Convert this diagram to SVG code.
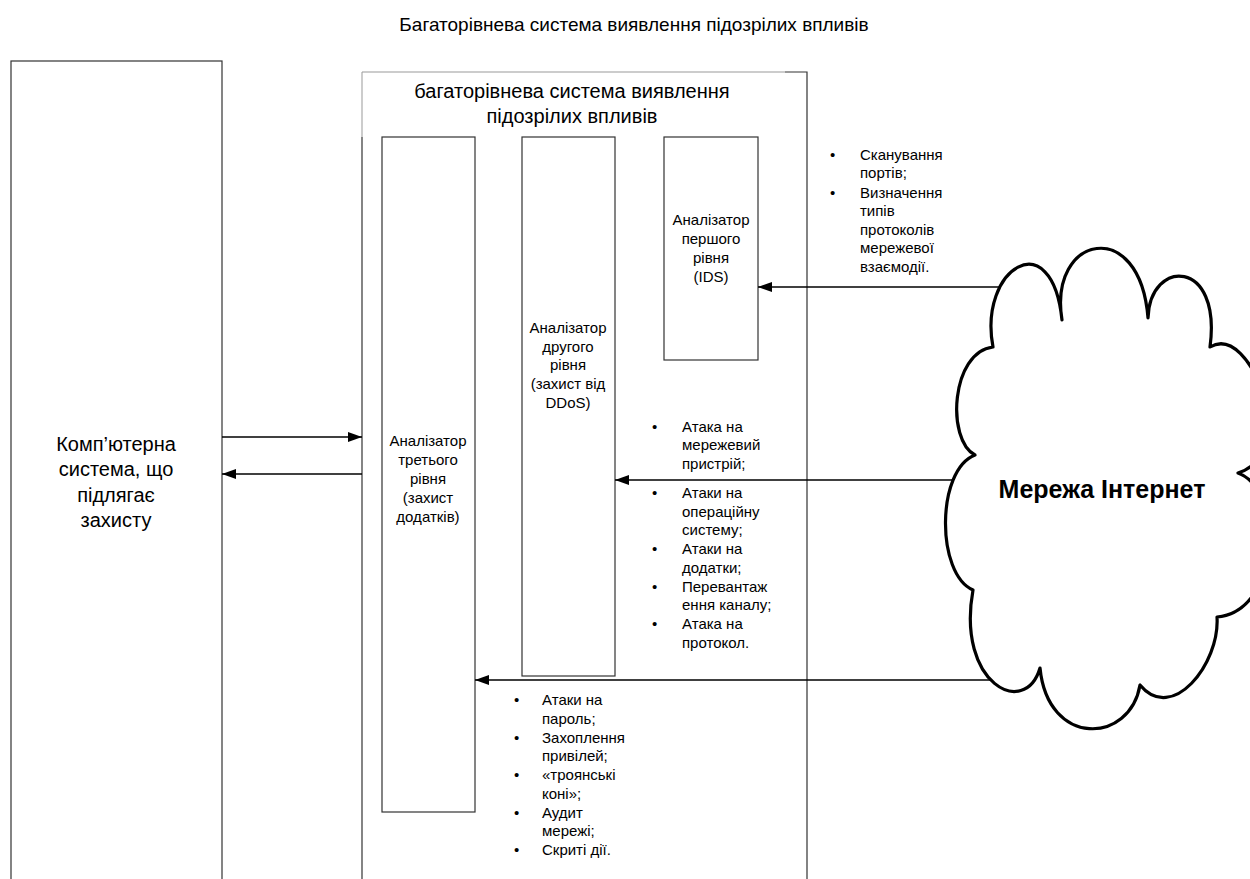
<svg xmlns="http://www.w3.org/2000/svg" width="1250" height="879" viewBox="0 0 1250 879">
  <defs>
    <marker id="arrow" markerWidth="14" markerHeight="10" refX="14" refY="5" orient="auto" markerUnits="userSpaceOnUse">
      <path d="M0,0 L14,5 L0,10 Z" fill="#000"/>
    </marker>
    <style>
      text { font-family: "Liberation Sans", Arial, sans-serif; fill: #000; }
      .box { fill: #fff; stroke: #333; stroke-width: 1.2; }
      .title { font-size: 19px; text-anchor: middle; }
      .sys { font-size: 20px; text-anchor: middle; }
      .big { font-size: 20px; text-anchor: middle; }
      .lbl { font-size: 15px; text-anchor: middle; }
      .li { font-size: 15px; }
      .conn { stroke: #000; stroke-width: 1.4; fill: none; marker-end: url(#arrow); }
      .cloud { fill: #fff; stroke: #000; stroke-width: 3.2; stroke-linejoin: round; }
      .net { font-size: 25px; font-weight: bold; text-anchor: middle; }
    </style>
  </defs>

  <rect width="1250" height="879" fill="#fff"/>

  <text class="title" x="634" y="31">Багаторівнева система виявлення підозрілих впливів</text>

  <!-- protected computer system -->
  <g id="protected-system">
    <rect class="box" x="11" y="61" width="211" height="830"/>
    <text class="big" x="116" y="451">Комп’ютерна</text>
    <text class="big" x="116" y="476">система, що</text>
    <text class="big" x="116" y="502">підлягає</text>
    <text class="big" x="116" y="527">захисту</text>
  </g>

  <!-- outer multi-level detection system -->
  <g id="detection-system">
    <path d="M362,890 V137" fill="none" stroke="#333" stroke-width="1.2"/>
    <path d="M362,137 V72 H785" fill="none" stroke="#999" stroke-width="1"/>
    <path d="M785,72 H807 V890" fill="none" stroke="#333" stroke-width="1.2"/>
    <text class="sys" x="572" y="98">багаторівнева система виявлення</text>
    <text class="sys" x="572" y="123">підозрілих впливів</text>
  </g>

  <g id="analyzer-3">
    <rect class="box" x="382" y="137" width="93" height="675"/>
    <text class="lbl" x="428" y="446">Аналізатор</text>
    <text class="lbl" x="428" y="465">третього</text>
    <text class="lbl" x="428" y="484">рівня</text>
    <text class="lbl" x="428" y="503">(захист</text>
    <text class="lbl" x="428" y="522">додатків)</text>
  </g>

  <g id="analyzer-2">
    <rect class="box" x="522" y="137" width="93" height="539"/>
    <text class="lbl" x="568" y="333">Аналізатор</text>
    <text class="lbl" x="568" y="352">другого</text>
    <text class="lbl" x="568" y="370">рівня</text>
    <text class="lbl" x="568" y="389">(захист від</text>
    <text class="lbl" x="568" y="408">DDoS)</text>
  </g>

  <g id="analyzer-1">
    <rect class="box" x="664" y="137" width="94" height="223"/>
    <text class="lbl" x="711" y="225">Аналізатор</text>
    <text class="lbl" x="711" y="244">першого</text>
    <text class="lbl" x="711" y="263">рівня</text>
    <text class="lbl" x="711" y="282">(IDS)</text>
  </g>

  <!-- connectors -->
  <g id="connectors">
    <line class="conn" x1="222" y1="437" x2="362" y2="437"/>
    <line class="conn" x1="362" y1="474" x2="222" y2="474"/>
    <line class="conn" x1="1010" y1="287" x2="758" y2="287"/>
    <line class="conn" x1="960" y1="480" x2="615" y2="480"/>
    <line class="conn" x1="990" y1="680" x2="475" y2="680"/>
  </g>

  <g id="internet">
    <path class="cloud" d="M993,347
      C978,268 1052,222 1062,320
      C1048,235 1140,215 1148,318
      C1150,258 1222,258 1210,347
      C1252,322 1298,455 1238,473
      C1285,490 1280,612 1217,617
      C1220,664 1172,724 1140,685
      C1130,744 1048,748 1040,668
      C1025,719 956,684 973,590
      C936,574 936,470 975,455
      C946,440 951,352 993,347 Z"/>
    <text class="net" x="1102" y="498">Мережа Інтернет</text>
  </g>

  <!-- attack lists -->
  <g id="list-first-level" class="li">
    <text x="830" y="160">•</text>
    <text x="860" y="160">Сканування</text>
    <text x="860" y="178">портів;</text>
    <text x="830" y="198">•</text>
    <text x="860" y="198">Визначення</text>
    <text x="860" y="216">типів</text>
    <text x="860" y="235">протоколів</text>
    <text x="860" y="253">мережевої</text>
    <text x="860" y="272">взаємодії.</text>
  </g>

  <g id="list-second-level" class="li">
    <text x="652" y="432">•</text>
    <text x="682" y="432">Атака на</text>
    <text x="682" y="450">мережевий</text>
    <text x="682" y="469">пристрій;</text>
    <text x="652" y="498">•</text>
    <text x="682" y="498">Атаки на</text>
    <text x="682" y="517">операційну</text>
    <text x="682" y="535">систему;</text>
    <text x="652" y="554">•</text>
    <text x="682" y="554">Атаки на</text>
    <text x="682" y="573">додатки;</text>
    <text x="652" y="592">•</text>
    <text x="682" y="592">Перевантаж</text>
    <text x="682" y="610">ення каналу;</text>
    <text x="652" y="629">•</text>
    <text x="682" y="629">Атака на</text>
    <text x="682" y="648">протокол.</text>
  </g>

  <g id="list-third-level" class="li">
    <text x="514" y="705">•</text>
    <text x="542" y="705">Атаки на</text>
    <text x="542" y="724">пароль;</text>
    <text x="514" y="743">•</text>
    <text x="542" y="743">Захоплення</text>
    <text x="542" y="761">привілей;</text>
    <text x="514" y="780">•</text>
    <text x="542" y="780">«троянські</text>
    <text x="542" y="799">коні»;</text>
    <text x="514" y="818">•</text>
    <text x="542" y="818">Аудит</text>
    <text x="542" y="836">мережі;</text>
    <text x="514" y="855">•</text>
    <text x="542" y="855">Скриті дії.</text>
  </g>
</svg>
